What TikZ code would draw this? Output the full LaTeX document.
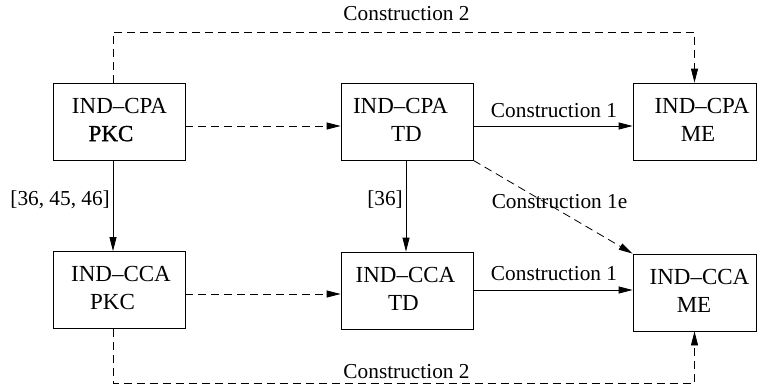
\documentclass[tikz,border=0pt]{standalone}
\usepackage{fontspec}
\setmainfont{Liberation Serif}
\newfontfamily\pkcbold[FakeBold=1.2]{Liberation Serif}
\usetikzlibrary{arrows.meta}
\newcommand{\tln}[2]{\makebox[0pt]{\hspace*{#1}\hspace*{#1}#2}}
\newcommand{\dep}{\rule[-4pt]{0pt}{4pt}}
\tikzset{
  box/.style={draw, line width=0.8pt, minimum width=132pt, minimum height=77pt,
    inner sep=0pt, align=center, font=\fontsize{23}{28}\selectfont},
  mebox/.style={box, minimum width=123pt},
  lbl/.style={anchor=base, inner sep=0pt, font=\fontsize{21.3}{25}\selectfont},
  conn/.style={line width=0.8pt, -{Triangle[length=14pt,width=7pt]}},
  dconn/.style={conn, dash pattern=on 8pt off 5pt},
}
\begin{document}
\begin{tikzpicture}[x=1pt,y=-1pt]
\useasboundingbox (0,0) rectangle (757,388);
% boxes
\node[box]   (cpapkc) at (119,121.5)   {\tln{0.5pt}{IND--CPA}\\\tln{-8pt}{\pkcbold PKC}\dep};
\node[box]   (cpatd)  at (407,121.5)   {\tln{-6.5pt}{IND--CPA}\\\tln{-0.5pt}{TD}\dep};
\node[mebox] (cpame)  at (694.5,121.5) {\tln{7.5pt}{IND--CPA}\\\tln{3.5pt}{ME}\dep};
\node[box]   (ccapkc) at (119,290)     {\tln{2pt}{IND--CCA}\\\tln{-6.5pt}{PKC}\dep};
\node[box]   (ccatd)  at (407,290.5)   {\tln{-1.5pt}{IND--CCA}\\\tln{-3.5pt}{TD}\dep};
\node[mebox] (ccame)  at (694.5,292.5) {\tln{5pt}{IND--CCA}\\\tln{-0.5pt}{ME}\dep};
% connectors
\draw[dconn] (cpapkc.east |- 0,126) -- (cpatd.west |- 0,126);
\draw[conn]  (cpatd.east |- 0,126) -- (cpame.west |- 0,126);
\draw[dconn] (ccapkc.east |- 0,294) -- (ccatd.west |- 0,294);
\draw[conn]  (ccatd.east |- 0,290) -- (ccame.west |- 0,290);
\draw[conn]  (cpapkc.south -| 113,0) -- (ccapkc.north -| 113,0);
\draw[conn]  (cpatd.south -| 406,0) -- (ccatd.north -| 406,0);
\draw[dconn] (cpatd.south east) -- (ccame.north west);
\draw[dconn] (cpapkc.north -| 113,0) |- (cpame.north |- 0,32) -- (cpame.north);
\draw[dconn] (ccapkc.south -| 113,0) |- (ccame.south |- 0,383) -- (ccame.south);
% labels
\node[lbl] (c2top) at (406.5,20)  {Construction 2};
\node[lbl] (c2bot) at (406.5,378) {Construction 2};
\node[lbl] (c1top) at (554,117)   {Construction 1};
\node[lbl] (c1bot) at (554,280)   {Construction 1};
\node[lbl] (c1e)   at (559.5,208) {Construction 1e};
\node[lbl, anchor=base east] (ref1) at (110,205) {[36, 45, 46]};
\node[lbl, anchor=base east] (ref2) at (403,205) {[36]};
\end{tikzpicture}
\end{document}
